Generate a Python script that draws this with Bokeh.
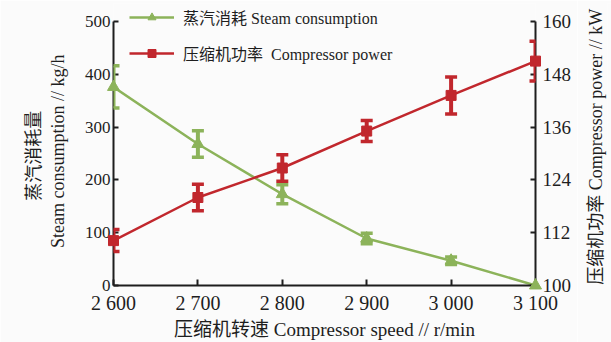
import math
from bokeh.plotting import figure
from bokeh.layouts import row
from bokeh.models import (Range1d, LinearAxis, FixedTicker, Whisker, TeeHead,
                          ColumnDataSource, Legend, LegendItem)
from bokeh.embed import file_html
from bokeh.resources import INLINE

# ---- data ----
speed = [2600, 2700, 2800, 2900, 3000, 3100]
speed_labels = ["2 600", "2 700", "2 800", "2 900", "3 000", "3 100"]
steam = [376, 268, 173, 89, 47, 0]
steam_err = [40, 25, 18, 10, 7, 0]
power = [110.2, 120.0, 126.7, 135.1, 143.2, 151.0]
power_err = [2.5, 3.0, 3.0, 2.4, 4.2, 4.5]
steam_ticks = [0, 100, 200, 300, 400, 500]
power_ticks = [100, 112, 124, 136, 148, 160]

GREEN = "#8cb35a"
RED = "#c1272d"
AXC = "#1e1e1e"
LAT = "Liberation Serif"
MIX = "Liberation Serif, Noto Sans CJK SC"
BG = "#fbfbfb"
NB = "\u00a0"

# layout (pixels)
W, H = 611, 342
SIDE_W = 34            # narrow strip that carries the right-hand title
LEFT, RIGHT, TOP, BOTTOM = 113, 42, 3, 57
AXIS_PX = 264          # pixel height of the 0..500 axis span
frame_h = H - TOP - BOTTOM
scale = frame_h / AXIS_PX

s_lo, s_hi = steam_ticks[0], steam_ticks[-1]
p_lo, p_hi = power_ticks[0], power_ticks[-1]

p = figure(width=W - SIDE_W, height=H, x_range=Range1d(speed[0], speed[-1]),
           y_range=Range1d(s_lo, s_lo + (s_hi - s_lo) * scale),
           output_backend="svg", toolbar_location=None,
           min_border_left=LEFT, min_border_right=RIGHT, min_border_top=TOP,
           min_border_bottom=BOTTOM,
           background_fill_color=BG, border_fill_color=BG)
p.outline_line_color = None
p.grid.visible = False
p.extra_y_ranges = {"power": Range1d(p_lo, p_lo + (p_hi - p_lo) * scale)}

def style_axis(ax, size, standoff, tick_in):
    ax.major_label_text_font = LAT
    ax.major_label_text_font_size = size
    ax.major_label_text_color = AXC
    ax.major_label_standoff = standoff
    ax.major_tick_in = tick_in
    ax.major_tick_out = 0
    ax.minor_tick_line_color = None
    ax.axis_line_width = 2
    ax.axis_line_color = AXC
    ax.major_tick_line_width = 2
    ax.major_tick_line_color = AXC
    ax.axis_label_text_font = MIX
    ax.axis_label_text_font_style = "normal"
    ax.axis_label_text_color = AXC

# bottom axis
xa = p.xaxis[0]
xa.ticker = FixedTicker(ticks=speed)
xa.major_label_overrides = {s: l for s, l in zip(speed, speed_labels)}
style_axis(xa, "20px", 6, 6)
xa.axis_label = "压缩机转速 Compressor speed // r/min"
xa.axis_label_text_font_size = "19px"
xa.axis_label_standoff = 2

# left axis
ya = p.yaxis[0]
ya.ticker = FixedTicker(ticks=steam_ticks)
ya.bounds = (s_lo, s_hi)
style_axis(ya, "17px", 3, 5)
ya.axis_label = "蒸汽消耗量" + NB * 5 + "\nSteam consumption // kg/h" + NB * 3
ya.axis_label_text_font_size = "18px"
ya.axis_label_standoff = 14

# right axis
ra = LinearAxis(y_range_name="power", ticker=FixedTicker(ticks=power_ticks),
                bounds=(p_lo, p_hi))
style_axis(ra, "19px", 7, 5)
p.add_layout(ra, "right")

# steam series
s_src = ColumnDataSource(dict(x=speed, y=steam))
s_err_src = ColumnDataSource(dict(
    x=[x for x, e in zip(speed, steam_err) if e > 0],
    lo=[v - e for v, e in zip(steam, steam_err) if e > 0],
    hi=[v + e for v, e in zip(steam, steam_err) if e > 0]))
g_line = p.line("x", "y", source=s_src, line_color=GREEN, line_width=2.5)
p.add_layout(Whisker(base="x", lower="lo", upper="hi", source=s_err_src,
                     line_color=GREEN, line_width=4, level="overlay",
                     upper_head=TeeHead(size=12, line_color=GREEN, line_width=3.5),
                     lower_head=TeeHead(size=12, line_color=GREEN, line_width=3.5)))
g_pts = p.scatter("x", "y", source=s_src, marker="triangle", size=12,
                  fill_color=GREEN, line_color=GREEN, level="overlay")

# power series
p_src = ColumnDataSource(dict(x=speed, y=power,
                              lo=[v - e for v, e in zip(power, power_err)],
                              hi=[v + e for v, e in zip(power, power_err)]))
r_line = p.line("x", "y", source=p_src, y_range_name="power", line_color=RED, line_width=2.5)
p.add_layout(Whisker(base="x", lower="lo", upper="hi", source=p_src, y_range_name="power",
                     line_color=RED, line_width=4, level="overlay",
                     upper_head=TeeHead(size=12, line_color=RED, line_width=3.5),
                     lower_head=TeeHead(size=12, line_color=RED, line_width=3.5)))
r_pts = p.scatter("x", "y", source=p_src, y_range_name="power", marker="square", size=10,
                  fill_color=RED, line_color=RED, level="overlay")

legend = Legend(items=[
    LegendItem(label="蒸汽消耗 Steam consumption", renderers=[g_line, g_pts]),
    LegendItem(label="压缩机功率  Compressor power", renderers=[r_line, r_pts]),
], location=(16, frame_h - 5 - 54 - 3))
legend.background_fill_alpha = 0
legend.border_line_color = None
legend.padding = 0
legend.margin = 0
legend.spacing = 12
legend.glyph_width = 45
legend.glyph_height = 20
legend.label_standoff = 9
legend.label_text_font = MIX
legend.label_text_font_size = "16px"
legend.label_text_color = AXC
p.add_layout(legend)

# narrow strip holding the right-hand axis title (reads bottom to top)
t = figure(width=SIDE_W, height=H, x_range=Range1d(0, 1), y_range=Range1d(0, 1),
           output_backend="svg", toolbar_location=None,
           x_axis_location=None, y_axis_location="left",
           min_border_left=SIDE_W - 4, min_border_right=0, min_border_top=TOP,
           min_border_bottom=BOTTOM,
           background_fill_color=BG, border_fill_color=BG)
t.outline_line_color = None
t.grid.visible = False
ta = t.yaxis[0]
ta.ticker = FixedTicker(ticks=[])
ta.axis_line_color = None
ta.major_tick_line_color = None
ta.minor_tick_line_color = None
ta.major_label_text_font_size = "0px"
ta.major_label_standoff = 0
ta.axis_label = "压缩机功率 Compressor power // kW" + NB
ta.axis_label_text_font = MIX
ta.axis_label_text_font_style = "normal"
ta.axis_label_text_font_size = "18px"
ta.axis_label_text_color = AXC
ta.axis_label_standoff = 2

layout = row(p, t)
layout.spacing = 0
open("out.html", "w").write(file_html(layout, INLINE))
